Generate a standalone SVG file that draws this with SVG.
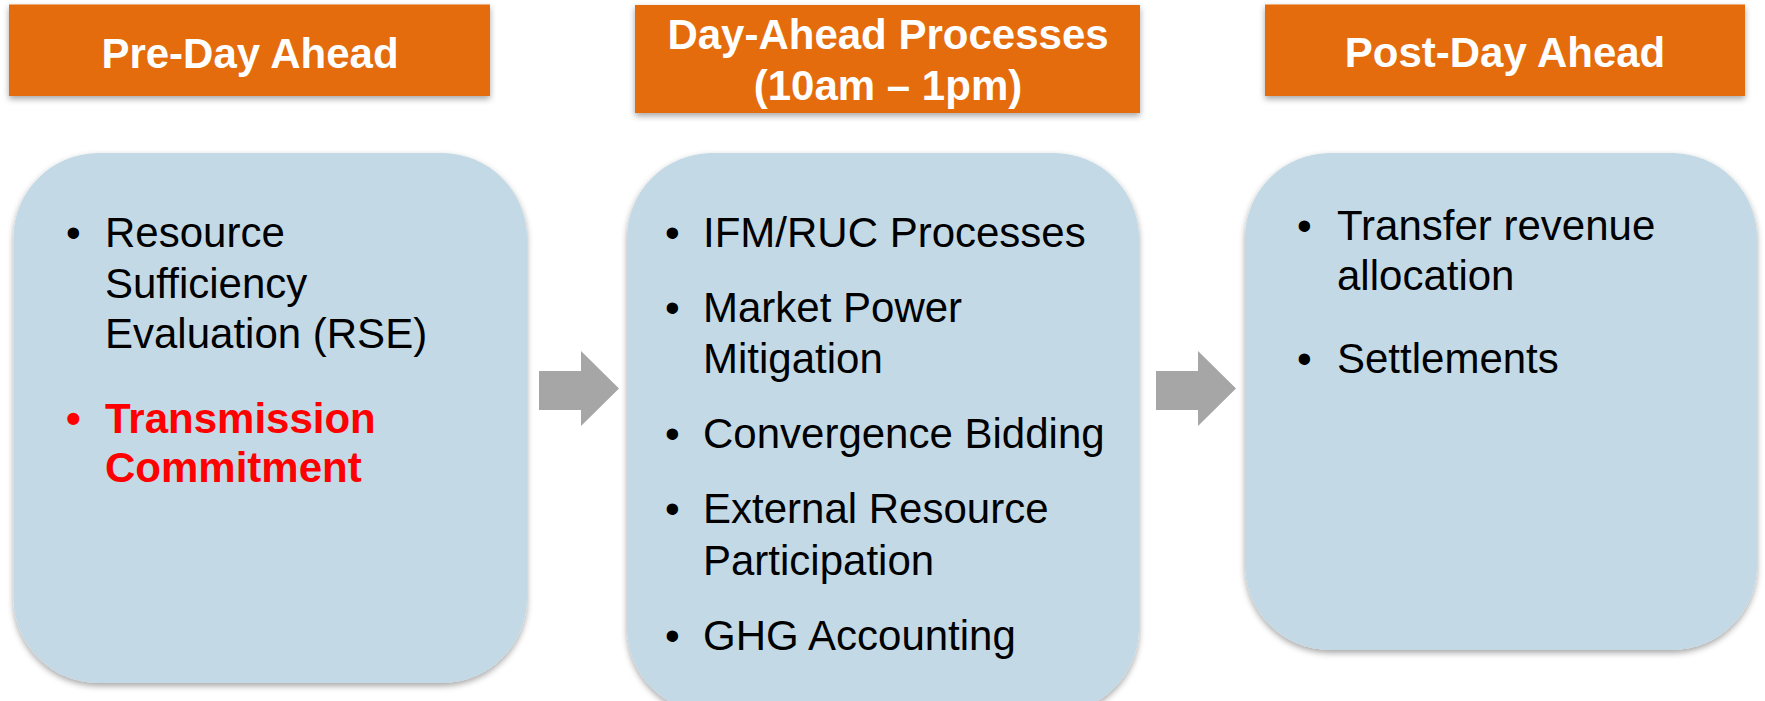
<svg xmlns="http://www.w3.org/2000/svg" width="1765" height="701" viewBox="0 0 1765 701">
<defs>
<filter id="sh" x="-10%" y="-10%" width="120%" height="125%">
<feDropShadow dx="0" dy="3" stdDeviation="3" flood-color="#000" flood-opacity="0.35"/>
</filter>
</defs>
<style>
.hdr{fill:#E46C0A;filter:url(#sh)}
.box{fill:#C3DAE6;filter:url(#sh)}
.ht{font-family:"Liberation Sans",Arial,sans-serif;font-weight:bold;font-size:42px;fill:#fff;text-anchor:middle}
.bt{font-family:"Liberation Sans",Arial,sans-serif;font-size:42px;fill:#000}
.red{fill:#FF0000;font-weight:bold}
.arr{fill:#A6A6A6}
</style>
<rect width="1765" height="701" fill="#fff"/>
<g id="hdr-pre">
<rect class="hdr" x="9" y="4.5" width="481" height="91.5"/>
<text class="ht" x="250" y="68">Pre-Day Ahead</text>
</g>
<g id="hdr-da">
<rect class="hdr" x="635" y="5" width="505" height="108"/>
<text class="ht" x="888" y="49">Day-Ahead Processes</text>
<text class="ht" x="888" y="100">(10am – 1pm)</text>
</g>
<g id="hdr-post">
<rect class="hdr" x="1265" y="4.5" width="480" height="91.5"/>
<text class="ht" x="1505" y="67">Post-Day Ahead</text>
</g>
<g id="box-pre">
<rect class="box" x="13.5" y="153" width="513.5" height="530" rx="85" ry="85"/>
<text class="bt" x="66" y="247">•</text>
<text class="bt" x="105" y="247">Resource</text>
<text class="bt" x="105" y="298">Sufficiency</text>
<text class="bt" x="105" y="348">Evaluation (RSE)</text>
<text class="bt red" x="66" y="433">•</text>
<text class="bt red" x="105" y="433">Transmission</text>
<text class="bt red" x="105" y="482">Commitment</text>
</g>
<g id="box-da">
<rect class="box" x="627" y="153" width="512" height="560" rx="85" ry="85"/>
<text class="bt" x="665" y="247">•</text>
<text class="bt" x="703" y="247">IFM/RUC Processes</text>
<text class="bt" x="665" y="322">•</text>
<text class="bt" x="703" y="322">Market Power</text>
<text class="bt" x="703" y="373">Mitigation</text>
<text class="bt" x="665" y="448">•</text>
<text class="bt" x="703" y="448">Convergence Bidding</text>
<text class="bt" x="665" y="523">•</text>
<text class="bt" x="703" y="523">External Resource</text>
<text class="bt" x="703" y="575">Participation</text>
<text class="bt" x="665" y="650">•</text>
<text class="bt" x="703" y="650">GHG Accounting</text>
</g>
<g id="box-post">
<rect class="box" x="1245" y="153" width="512" height="497" rx="85" ry="85"/>
<text class="bt" x="1297" y="240">•</text>
<text class="bt" x="1337" y="240">Transfer revenue</text>
<text class="bt" x="1337" y="290">allocation</text>
<text class="bt" x="1297" y="373">•</text>
<text class="bt" x="1337" y="373">Settlements</text>
</g>
<g id="connectors">
<polygon class="arr" points="539,371 581,371 581,351 619,388.5 581,426 581,410 539,410"/>
<polygon class="arr" points="1156,371 1198,371 1198,351 1236,388.5 1198,426 1198,410 1156,410"/>
</g>
</svg>
